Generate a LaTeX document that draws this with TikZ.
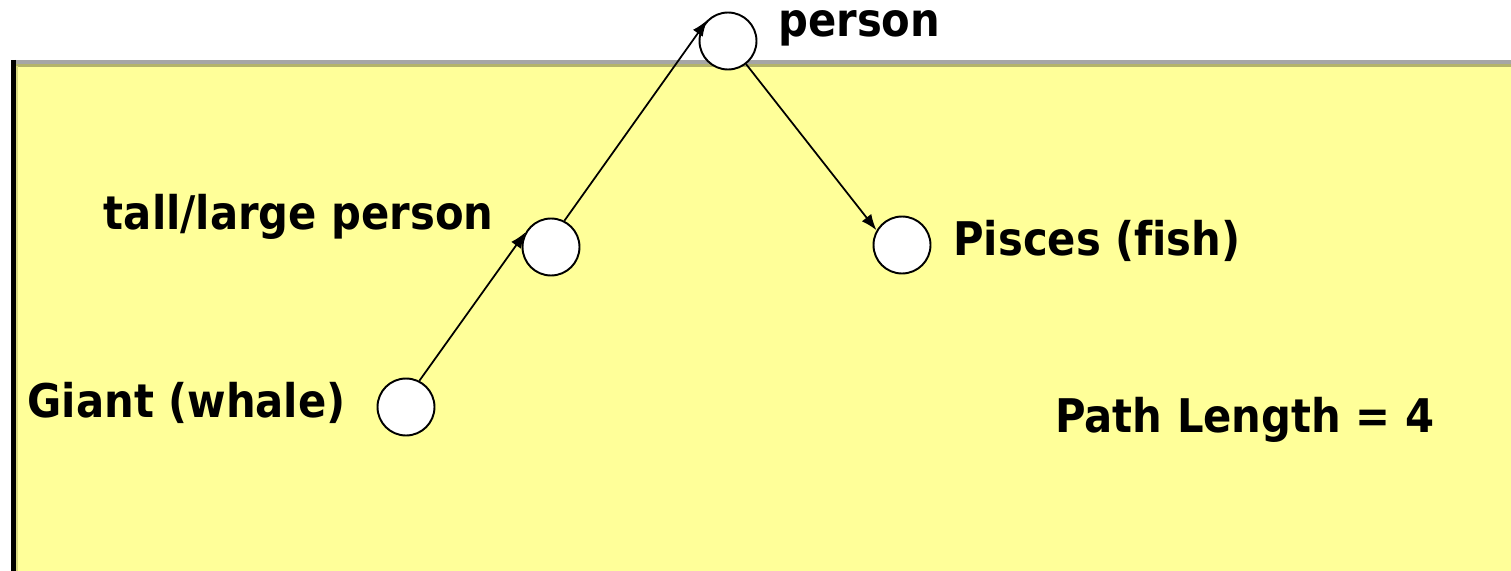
\documentclass[tikz,border=0pt]{standalone}
\usepackage{fontspec}
\usepackage{tikz}
\usetikzlibrary{arrows.meta, positioning}
\newfontfamily\labelfont{DejaVu Sans Condensed}[Ligatures=NoCommon]
\definecolor{noteYellow}{HTML}{FFFF99}
\definecolor{frameGray}{HTML}{A6A6A6}
\definecolor{frameOlive}{HTML}{B3B36B}
\definecolor{edgeOlive}{HTML}{D8D880}

\begin{document}
\begin{tikzpicture}[
  x=0.02cm, y=-0.02cm,
  vertex/.style={circle, fill=white, draw=black, line width=1.1pt, inner sep=0pt, minimum size=1.14cm},
  lbl/.style={inner sep=0pt, font=\labelfont\bfseries\fontsize{26.4}{30}\selectfont, text=black},
  link/.style={draw=black, line width=1pt, -{Latex[length=3.2mm, width=2.4mm]}},
]
  \useasboundingbox (0,0) rectangle (1511,571);

  % Note panel
  \fill[noteYellow] (12,62) rectangle (1511,571);
  \draw[frameOlive, line width=0.06cm] (15,65.5) -- (1511,65.5);
  \draw[edgeOlive, line width=0.04cm] (17,66) -- (17,571);
  \draw[frameGray, line width=0.08cm] (11,62) -- (1511,62);
  \draw[black, line width=0.09cm] (13.5,60) -- (13.5,571);

  % Vertices
  \node[vertex] (person) at (728,41) {};
  \node[vertex] (tall)   at (551,247) {};
  \node[vertex] (pisces) at (902,245) {};
  \node[vertex] (giant)  at (406,407) {};

  % Labels
  \node[lbl, anchor=base west] (personlbl) at (778,37)  {person};
  \node[lbl, anchor=base east] (talllbl)   at (494,229) {tall/large person};
  \node[lbl, anchor=base west] (pisceslbl) at (953,255) {Pisces (fish)};
  \node[lbl, anchor=base east] (giantlbl)  at (346,417) {Giant (whale)};
  \node[lbl, anchor=base west] (pathlbl)   at (1055,432) {Path Length = 4};

  % Path
  \draw[link] (giant.63)   -- (tall.150);
  \draw[link] (tall.63)    -- (person.135);
  \draw[link] (person.-52) -- (pisces.150);
\end{tikzpicture}
\end{document}
